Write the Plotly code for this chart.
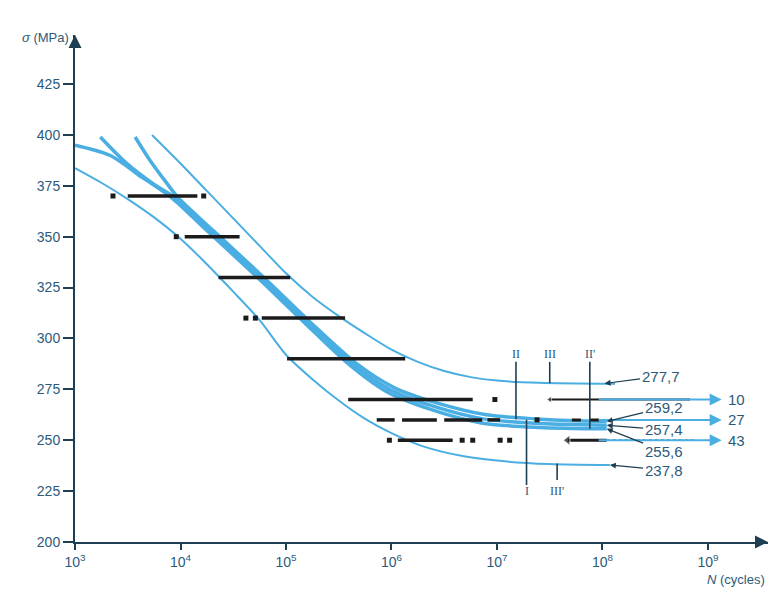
import plotly.graph_objects as go

# ---------------- data (log10 N, sigma MPa) ----------------
upper_logN = [3.73, 4.0, 4.25, 4.5, 4.75, 5.0, 5.25, 5.5, 5.75, 6.0, 6.25, 6.5, 6.75, 7.0, 7.4, 8.12]
upper_sig = [400, 386, 372.5, 359, 345.5, 332, 320.5, 311, 302.5, 294.5, 288.5, 284, 281, 279.3, 278.2, 277.7]

lower_logN = [3.0, 3.25, 3.5, 3.75, 4.0, 4.25, 4.5, 4.75, 5.0, 5.25, 5.5, 5.75, 6.0, 6.3, 6.7, 7.1, 7.5, 8.07]
lower_sig = [383.7, 376.5, 368.5, 359.5, 349, 336.5, 323, 309, 292, 280, 269.5, 260.5, 253.5, 247, 242, 239.5, 238.3, 237.8]

midA_logN = [3.0, 3.33, 3.64, 3.92, 4.25, 4.75, 5.17, 5.58, 5.95, 6.35, 6.85, 7.4, 8.04]
midA_sig = [395, 390, 379, 369, 353, 329, 308, 288, 274, 265.5, 258.5, 256.3, 255.6]
midB_logN = [3.24, 3.49, 3.74, 3.95, 4.28, 4.78, 5.2, 5.62, 5.98, 6.38, 6.87, 7.42, 8.04]
midB_sig = [399, 386, 376, 369, 353, 329, 308, 288, 275, 267, 260.5, 258.2, 257.4]
midC_logN = [3.57, 3.71, 3.87, 3.98, 4.31, 4.81, 5.23, 5.66, 6.02, 6.42, 6.9, 7.45, 8.04]
midC_sig = [399, 387.6, 376.3, 369, 353, 329, 308, 288, 276, 268.5, 262.5, 260.2, 259.2]

# test results: stress level, continuous segments (logN start, end), isolated points
levels = [370, 350, 330, 310, 290, 270, 260, 250]
segments = [
    [(3.50, 4.16)],
    [(4.04, 4.56)],
    [(4.36, 5.04)],
    [(4.77, 5.56)],
    [(5.01, 6.13)],
    [(5.59, 6.77)],
    [(5.86, 6.03), (6.10, 6.43), (6.50, 6.86), (6.91, 7.03)],
    [(6.06, 6.58)],
]
points = [
    [3.36, 4.22],
    [3.96],
    [],
    [4.62, 4.71],
    [],
    [6.98],
    [7.38],
    [5.98, 6.67, 6.77, 7.03, 7.12],
]

# run-outs
runout_sig = [270, 260, 250]
runout_count = ["10", "27", "43"]
runout_solid = [(7.50, 8.83), (7.71, 8.0), (7.67, 8.04)]
runout_dotted = [None, (8.0, 8.88), (8.04, 8.88)]

# curve end values
end_labels = ["277,7", "259,2", "257,4", "255,6", "237,8"]
end_targets = [(8.02, 277.9), (8.04, 259.2), (8.04, 257.4), (8.04, 255.6), (8.07, 237.8)]
end_text_pos = [(8.55, 281.5), (8.58, 266), (8.58, 255.2), (8.58, 244.6), (8.58, 235.3)]

# vertical markers: label, logN, sigma top, sigma bottom, label sigma
markers = [("II", 7.18, 288.5, 260.3, 292.2),
           ("III", 7.50, 288.5, 278.0, 292.2),
           ("II'", 7.88, 288.5, 255.6, 292.2),
           ("I", 7.28, 260.0, 228.0, 225.0),
           ("III'", 7.57, 238.6, 230.5, 225.0)]

xticks = [3, 4, 5, 6, 7, 8, 9]
yticks = [200, 225, 250, 275, 300, 325, 350, 375, 400, 425]

BLUE = "#4aaee2"
DARK = "#1e3f52"
TXT = "#2d5a7a"
FONT = "Liberation Sans Narrow, Liberation Sans, Arial, sans-serif"

def N(v):
    return [10 ** a for a in v]

fig = go.Figure()

# curves
for lx, ly, w in [(lower_logN, lower_sig, 2), (upper_logN, upper_sig, 2),
                  (midA_logN, midA_sig, 3.5), (midB_logN, midB_sig, 3.5),
                  (midC_logN, midC_sig, 3.5)]:
    fig.add_trace(go.Scatter(x=N(lx), y=ly, mode="lines",
                             line=dict(color=BLUE, width=w, shape="spline", smoothing=0.8),
                             hoverinfo="skip", showlegend=False))

# blue run-out lines
for s in runout_sig:
    fig.add_annotation(x=9.13, y=s, ax=7.95, ay=s, xref="x", yref="y", axref="x", ayref="y",
                       showarrow=True, arrowhead=2, arrowsize=1.2, arrowwidth=2,
                       arrowcolor=BLUE, text="")

# data bars
for lev, segs, pts in zip(levels, segments, points):
    for a, b in segs:
        fig.add_trace(go.Scatter(x=N([a, b]), y=[lev, lev], mode="lines",
                                 line=dict(color="#1b1b1b", width=3.5),
                                 hoverinfo="skip", showlegend=False))
    if pts:
        fig.add_trace(go.Scatter(x=N(pts), y=[lev] * len(pts), mode="markers",
                                 marker=dict(symbol="square", size=5, color="#1b1b1b"),
                                 hoverinfo="skip", showlegend=False))

# run-out black/dotted parts
for s, solid, dotted in zip(runout_sig, runout_solid, runout_dotted):
    fig.add_trace(go.Scatter(x=N(list(solid)), y=[s, s], mode="lines",
                             line=dict(color="#1b1b1b", width=2 if s == 270 else 3,
                                       dash="solid" if s != 260 else "dash"),
                             hoverinfo="skip", showlegend=False))
    if dotted:
        fig.add_trace(go.Scatter(x=N(list(dotted)), y=[s, s], mode="lines",
                                 line=dict(color="#1b1b1b", width=1.5, dash="dot"),
                                 hoverinfo="skip", showlegend=False))
fig.add_trace(go.Scatter(x=N([runout_solid[0][0], runout_solid[2][0]]),
                         y=[runout_sig[0], runout_sig[2]], mode="markers",
                         marker=dict(symbol="triangle-left", size=[6, 9], color="#1b1b1b"),
                         hoverinfo="skip", showlegend=False))

for s, c in zip(runout_sig, runout_count):
    fig.add_annotation(x=9.27, y=s, xref="x", yref="y", text=c, showarrow=False,
                       font=dict(family=FONT, size=15, color=TXT), xanchor="center")

# vertical markers
for lab, lx, top, bot, ly in markers:
    fig.add_trace(go.Scatter(x=N([lx, lx]), y=[top, bot], mode="lines",
                             line=dict(color=DARK, width=1.6),
                             hoverinfo="skip", showlegend=False))
    fig.add_annotation(x=lx, y=ly, xref="x", yref="y", text=lab, showarrow=False,
                       font=dict(family="Liberation Serif, serif", size=12, color=TXT))

# end value labels
for lab, (tx, ty), (px, py) in zip(end_labels, end_targets, end_text_pos):
    fig.add_annotation(x=tx, y=ty, ax=px, ay=py, xref="x", yref="y", axref="x", ayref="y",
                       text=lab, showarrow=True, arrowhead=2, arrowsize=1, arrowwidth=1.2,
                       arrowcolor=DARK, standoff=0,
                       font=dict(family=FONT, size=15, color=TXT))

# axis arrows
fig.add_annotation(x=1, y=0, xref="paper", yref="paper", ax=-12, ay=0, text="",
                   showarrow=True, arrowhead=2, arrowsize=1.3, arrowwidth=2, arrowcolor=DARK)
fig.add_annotation(x=0, y=1, xref="paper", yref="paper", ax=0, ay=12, text="",
                   showarrow=True, arrowhead=2, arrowsize=1.3, arrowwidth=2, arrowcolor=DARK)

# axis titles
fig.add_annotation(x=0, y=1, xref="paper", yref="paper", xanchor="right", yanchor="middle",
                   xshift=-4, yshift=-2, text="<i>σ</i> (MPa)", showarrow=False,
                   font=dict(family=FONT, size=13, color=TXT))
fig.add_annotation(x=1, y=0, xref="paper", yref="paper", xanchor="right", yanchor="top",
                   xshift=-1, yshift=-28, text="<i>N</i> (cycles)", showarrow=False,
                   font=dict(family=FONT, size=13, color=TXT))

fig.update_xaxes(type="log", range=[3, 9.569], showgrid=False, zeroline=False,
                 showline=True, linecolor=DARK, linewidth=2,
                 tickvals=[10 ** k for k in xticks],
                 ticktext=[f"10<sup>{k}</sup>" for k in xticks],
                 ticks="outside", ticklen=6, tickwidth=1.5, tickcolor=DARK,
                 tickfont=dict(family=FONT, size=14, color=TXT))
fig.update_yaxes(range=[200, 449.1], showgrid=False, zeroline=False,
                 showline=True, linecolor=DARK, linewidth=2,
                 tickvals=yticks, ticks="outside", ticklen=10, tickwidth=1.5, tickcolor=DARK,
                 tickfont=dict(family=FONT, size=14, color=TXT))

fig.update_layout(width=771, height=591,
                  margin=dict(l=75, r=3, t=35, b=49, autoexpand=False),
                  plot_bgcolor="white", paper_bgcolor="white", showlegend=False)

fig.write_html("out.html", config={"displayModeBar": False},
               post_script="document.body.style.margin='0';document.body.style.padding='0';")
